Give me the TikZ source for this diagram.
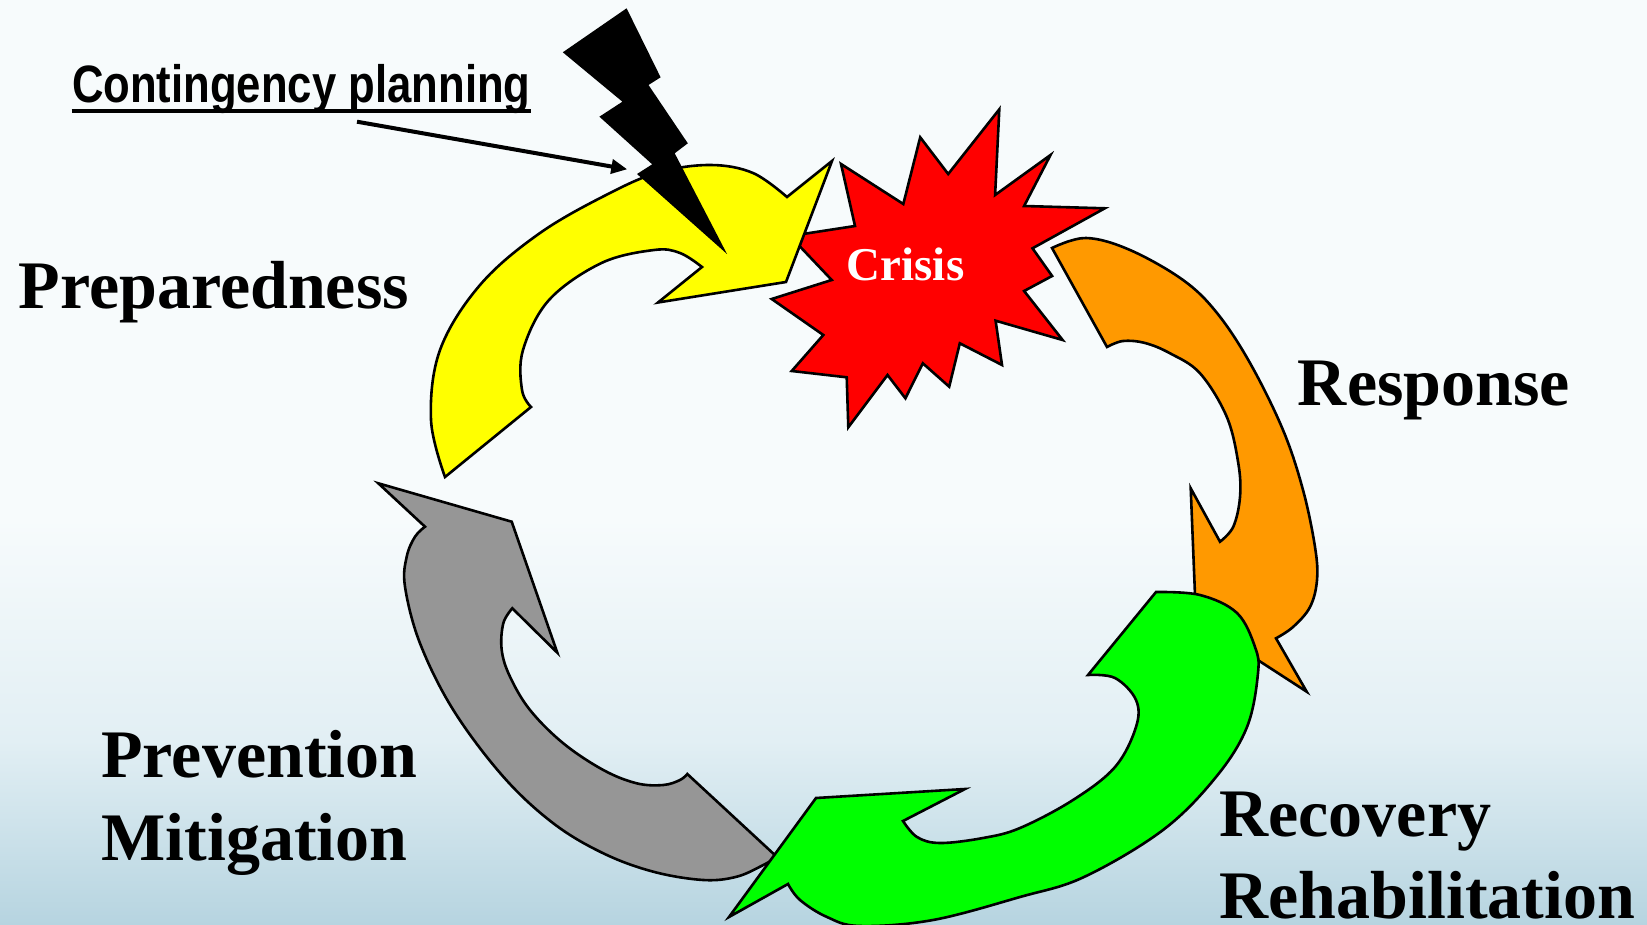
\documentclass[tikz,border=0pt]{standalone}
\usepackage{fontspec}
\setmainfont{Liberation Serif}
\newfontfamily\narrowsans{Liberation Sans}
\usetikzlibrary{arrows.meta}
\definecolor{bgtop}{RGB}{247,251,252}
\definecolor{bgmid}{RGB}{226,239,244}
\definecolor{bgbot}{RGB}{182,212,224}
\definecolor{grayA}{RGB}{150,150,150}
\definecolor{orangeA}{RGB}{255,153,0}
\definecolor{greenA}{RGB}{0,255,0}
\definecolor{yellowA}{RGB}{255,255,0}
\definecolor{redA}{RGB}{255,0,0}
\pgfdeclareverticalshading{bgshade}{100bp}{color(0bp)=(bgbot); color(25bp)=(bgbot); color(35bp)=(bgmid); color(47bp)=(bgtop); color(100bp)=(bgtop)}
\tikzset{
  part/.style={draw=black, line width=1.3pt, line join=miter},
  stage/.style={font=\fontsize{34pt}{41pt}\selectfont\bfseries, anchor=base west, inner sep=0pt},
}
\begin{document}
\begin{tikzpicture}[x=0.5pt,y=-0.5pt]
\useasboundingbox (0,0) rectangle (1647,925);
\shade[shading=bgshade] (0,0) rectangle (1647,925);

% gray arrow (prevention)
\draw[part, fill=grayA] (378.3,483.3) -- (511.7,521.7) -- (557.3,652.7) -- (512.3,608.3)
  -- plot[smooth, tension=0.6] coordinates {(512.3,608.3) (503.3,623.3) (501.7,650) (510,676.7) (530,710) (563.3,743.3) (603.3,770) (636.7,783.3) (663.3,785) (680,780) (687.3,774)}
  -- (777,857)
  -- plot[smooth, tension=0.6] coordinates {(777,857) (763.3,865) (736.7,876.7) (703.3,880) (653.3,871.7) (603.3,853.3) (553.3,823.3) (503.3,776.7) (453.3,710) (420,643.3) (405,586.7) (406.7,556.7) (415,536.7) (425,526.7)}
  -- cycle;

% orange arrow (response)
\draw[part, fill=orangeA] (1052,248)
  -- plot[smooth, tension=0.6] coordinates {(1052,248) (1086,238) (1130,250) (1183,280) (1217,313) (1250,363) (1283,430) (1303,490) (1315,547) (1317,580) (1310,607) (1293,627) (1276,638.3)}
  -- (1306.7,691.7) -- (1196,620) -- (1190.7,488.3) -- (1220,541.7)
  -- plot[smooth, tension=0.6] coordinates {(1220,541.7) (1233.3,526.7) (1240,497) (1238.3,463.3) (1226.7,416.7) (1200,373.3) (1170,353.3) (1145,343) (1123,341) (1107,347)}
  -- cycle;

% green arrow (recovery)
\draw[part, fill=greenA] (1156,592)
  -- plot[smooth, tension=0.6] coordinates {(1156,592) (1200,595) (1237,613) (1255,647) (1258,673) (1247,727) (1216,777) (1163,830) (1084,877) (1020,897) (933,920) (860,926) (827,917) (800,900) (788,884)}
  -- (729,917) -- (816,798) -- (965,789) -- (903,821)
  -- plot[smooth, tension=0.6] coordinates {(903,821) (917,837) (940,843) (983,838) (1020,828) (1073,800) (1115,767) (1136,727) (1136,700) (1115,678) (1088,675)}
  -- cycle;

% crisis star
\draw[part, fill=redA] (841,164) -- (903.3,204) -- (920.2,137.3) -- (948.2,174) -- (999.3,109.3) -- (995.1,195) -- (1050.5,155) -- (1024.1,206) -- (1104.8,208.3) -- (1032.5,248.3) -- (1052.1,276) -- (1024.1,291) -- (1062.6,340) -- (995.6,320.7) -- (1002,365) -- (959.8,343.3) -- (949.2,386.7) -- (922.8,363.3) -- (905.4,398.3) -- (887.5,375) -- (848.3,427.3) -- (846.7,377.3) -- (791.7,371) -- (823.3,335) -- (771.7,299) -- (831.7,280) -- (790,236) -- (855,226) -- cycle;

% yellow arrow (preparedness)
\draw[part, fill=yellowA] (445,477)
  -- plot[smooth, tension=0.6] coordinates {(445,477) (431,420) (440,350) (480,285) (540,233) (610,193) (660,172) (711,165) (753,173) (787,197)}
  -- (832,161) -- (786,282) -- (658,302.5) -- (702,267)
  -- plot[smooth, tension=0.6] coordinates {(702,267) (680,253) (654,250) (601.5,263) (549,300) (523,350) (522,390) (531,407)}
  -- cycle;

% lightning bolt
\fill[black] (626.6,8.3) -- (660.6,77.3) -- (648.5,85) -- (687.8,143.3) -- (674.7,153.3) -- (727,254) -- (637,174) -- (652.2,164.3) -- (599.4,116.7) -- (622.4,101.7) -- (562.8,52.3) -- cycle;

% texts
\node[anchor=base west, inner sep=0pt, font=\narrowsans\bfseries\fontsize{26.3pt}{30pt}\selectfont] (cont) at (71.7,102.7) {\scalebox{0.83}[1]{Contingency planning}};
\draw[line width=2.2pt] ([yshift=-4.05pt]cont.base west) -- ([yshift=-4.05pt]cont.base east);
\coordinate (cp1) at (357,121.7);
\coordinate (cp2) at (627.3,169.3);
\draw[line width=2pt, -{Triangle[length=8pt,width=7pt]}] (cp1) -- (cp2);

\node[anchor=base west, inner sep=0pt, text=white, font=\fontsize{23.5pt}{28pt}\selectfont\bfseries] (crisis) at (846.4,280) {Crisis};
\node[stage] (prep) at (18.3,308.3) {Preparedness};
\node[stage] (resp) at (1297.5,405) {Response};
\node[stage] (prev) at (101,777.3) {Prevention};
\node[stage] (miti) at (101,860) {Mitigation};
\node[stage] (reco) at (1219,836) {Recovery};
\node[stage] (reha) at (1219,918) {Rehabilitation};
\end{tikzpicture}
\end{document}
